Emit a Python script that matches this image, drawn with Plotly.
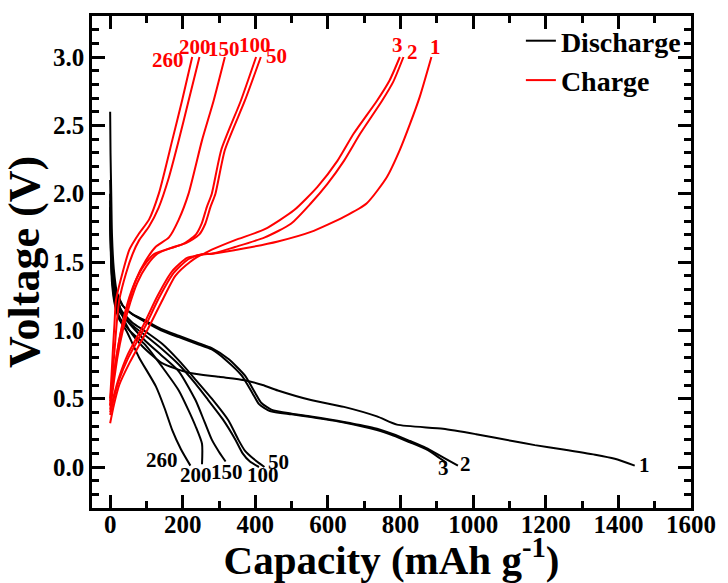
import plotly.graph_objects as go

# ---------------- data ----------------
cycles = ["1", "2", "3", "50", "100", "150", "200", "260"]

dis_x = {
    "1": [0, 1, 3, 5, 10, 20, 35, 53, 90, 143, 216, 300, 371, 420, 462, 553, 644, 735, 790, 917, 1008, 1108, 1170, 1244, 1336, 1390, 1445],
    "2": [0, 2, 5, 15, 35, 60, 98, 140, 189, 240, 280, 326, 371, 400, 416, 444, 500, 553, 644, 735, 780, 826, 870, 917, 958],
    "3": [0, 2, 5, 15, 35, 60, 98, 140, 189, 240, 280, 320, 362, 392, 410, 440, 500, 553, 644, 735, 780, 826, 870, 900, 926],
    "50": [0, 2, 5, 12, 30, 60, 98, 144, 189, 235, 280, 326, 353, 371, 395, 425],
    "100": [0, 2, 5, 12, 30, 60, 98, 144, 189, 235, 270, 310, 345, 365, 385, 410],
    "150": [0, 2, 5, 12, 25, 53, 98, 140, 189, 235, 260, 280, 300, 318],
    "200": [0, 2, 5, 12, 25, 53, 98, 144, 189, 215, 235, 253, 253],
    "260": [0, 2, 5, 12, 25, 44, 80, 126, 150, 171, 195, 221],
}
dis_y = {
    "1": [2.6, 2.3, 2.0, 1.7, 1.45, 1.25, 1.1, 1.0, 0.88, 0.76, 0.69, 0.66, 0.635, 0.6, 0.56, 0.49, 0.44, 0.37, 0.31, 0.28, 0.24, 0.19, 0.16, 0.13, 0.09, 0.06, 0.01],
    "2": [2.1, 1.8, 1.5, 1.3, 1.18, 1.12, 1.07, 1.01, 0.96, 0.91, 0.87, 0.79, 0.67, 0.54, 0.47, 0.42, 0.39, 0.37, 0.33, 0.28, 0.24, 0.19, 0.14, 0.07, 0.01],
    "3": [2.0, 1.75, 1.5, 1.3, 1.18, 1.12, 1.06, 1.0, 0.95, 0.9, 0.86, 0.78, 0.67, 0.54, 0.46, 0.41, 0.385, 0.365, 0.325, 0.27, 0.23, 0.18, 0.13, 0.08, 0.03],
    "50": [1.95, 1.7, 1.5, 1.3, 1.15, 1.06, 0.99, 0.9, 0.78, 0.64, 0.5, 0.34, 0.2, 0.12, 0.06, 0.0],
    "100": [1.9, 1.65, 1.45, 1.28, 1.13, 1.04, 0.96, 0.86, 0.75, 0.61, 0.49, 0.35, 0.2, 0.1, 0.04, 0.0],
    "150": [1.9, 1.6, 1.4, 1.25, 1.14, 1.05, 0.92, 0.82, 0.7, 0.49, 0.33, 0.2, 0.11, 0.04],
    "200": [1.85, 1.6, 1.4, 1.22, 1.1, 1.0, 0.89, 0.73, 0.56, 0.42, 0.3, 0.17, 0.02],
    "260": [1.8, 1.55, 1.35, 1.2, 1.08, 1.0, 0.8, 0.59, 0.43, 0.27, 0.13, 0.01],
}

chg_x = {
    "1": [0, 10, 25, 53, 98, 140, 180, 220, 253, 280, 371, 462, 553, 644, 707, 762, 798, 826, 853, 885],
    "2": [0, 10, 25, 50, 95, 135, 175, 215, 250, 280, 344, 426, 498, 553, 598, 644, 689, 749, 780, 808],
    "3": [0, 10, 25, 48, 92, 130, 170, 212, 253, 280, 344, 426, 507, 571, 626, 671, 735, 770, 798],
    "50": [0, 8, 20, 35, 55, 75, 100, 130, 175, 210, 245, 262, 276, 290, 316, 371, 415],
    "100": [0, 6, 17, 30, 48, 68, 92, 122, 165, 200, 236, 252, 266, 280, 306, 360, 402],
    "150": [0, 8, 20, 35, 53, 71, 98, 125, 162, 189, 216, 253, 285, 316],
    "200": [0, 6, 12, 18, 25, 44, 62, 80, 107, 134, 162, 189, 216, 246],
    "260": [0, 4, 8, 12, 16, 34, 53, 80, 107, 134, 171, 198, 226],
}
chg_y = {
    "1": [0.32, 0.45, 0.6, 0.76, 0.98, 1.2, 1.4, 1.5, 1.555, 1.56, 1.6, 1.65, 1.72, 1.83, 1.93, 2.12, 2.32, 2.51, 2.71, 3.0],
    "2": [0.38, 0.5, 0.64, 0.8, 1.02, 1.24, 1.42, 1.52, 1.555, 1.56, 1.61, 1.68, 1.78, 1.93, 2.07, 2.24, 2.44, 2.68, 2.82, 3.0],
    "3": [0.4, 0.52, 0.66, 0.82, 1.04, 1.25, 1.43, 1.53, 1.555, 1.59, 1.66, 1.74, 1.88, 2.05, 2.24, 2.44, 2.68, 2.83, 3.0],
    "50": [0.42, 0.58, 0.8, 1.0, 1.2, 1.35, 1.47, 1.56, 1.61, 1.64, 1.7, 1.78, 1.9, 2.0, 2.32, 2.68, 3.0],
    "100": [0.45, 0.6, 0.8, 1.0, 1.2, 1.35, 1.47, 1.56, 1.6, 1.63, 1.7, 1.78, 1.9, 2.0, 2.32, 2.68, 3.0],
    "150": [0.45, 0.62, 0.85, 1.05, 1.22, 1.37, 1.51, 1.61, 1.68, 1.81, 2.0, 2.39, 2.68, 3.0],
    "200": [0.48, 0.65, 0.85, 1.05, 1.22, 1.42, 1.56, 1.66, 1.76, 1.9, 2.12, 2.39, 2.68, 3.0],
    "260": [0.5, 0.68, 0.88, 1.05, 1.22, 1.42, 1.59, 1.71, 1.81, 2.0, 2.39, 2.68, 3.0],
}

# cycle labels: (text, x, y)
chg_labels = [("260", 158, 2.98), ("200", 235, 3.07), ("150", 314, 3.06), ("100", 398, 3.09), ("50", 459, 3.01),
              ("3", 792, 3.09), ("2", 834, 3.04), ("1", 896, 3.07)]
dis_labels = [("260", 143, 0.05), ("200", 236, -0.06), ("150", 323, -0.04), ("100", 421, -0.06), ("50", 464, 0.04),
              ("3", 917, -0.01), ("2", 980, 0.025), ("1", 1473, 0.012)]

x_range = [-50, 1600]
y_range = [-0.3, 3.3]

FONT = "Liberation Serif, Times New Roman, serif"
BLACK = "#000000"
RED = "#ff0000"

fig = go.Figure()
for i, c in enumerate(cycles):
    fig.add_trace(go.Scatter(x=dis_x[c], y=dis_y[c], mode="lines",
                             line=dict(color=BLACK, width=2, shape="spline", smoothing=0.6),
                             name="Discharge", legendgroup="d", showlegend=(i == 0)))
for i, c in enumerate(cycles):
    fig.add_trace(go.Scatter(x=chg_x[c], y=chg_y[c], mode="lines",
                             line=dict(color=RED, width=2, shape="spline", smoothing=0.6),
                             name="Charge", legendgroup="c", showlegend=(i == 0)))

for t, x, y in chg_labels:
    fig.add_annotation(x=x, y=y, text=t, showarrow=False,
                       font=dict(family=FONT, size=21, color=RED, weight="bold"))
for t, x, y in dis_labels:
    fig.add_annotation(x=x, y=y, text=t, showarrow=False,
                       font=dict(family=FONT, size=21, color=BLACK, weight="bold"))

axis_common = dict(showline=True, linecolor=BLACK, linewidth=2.5, mirror="allticks",
                   ticks="inside", tickwidth=2.5, ticklen=13, tickcolor=BLACK,
                   showgrid=False, zeroline=False,
                   tickfont=dict(family=FONT, size=25, color=BLACK, weight="bold"))

fig.update_xaxes(range=x_range, tick0=0, dtick=200, ticklabelstandoff=-8,
                 minor=dict(ticks="inside", dtick=100, ticklen=7, tickwidth=2.5, tickcolor=BLACK, showgrid=False),
                 title=dict(text="Capacity (mAh g<sup>-1</sup>)", standoff=4,
                            font=dict(family=FONT, size=41, color=BLACK, weight="bold")),
                 **axis_common)
fig.update_yaxes(range=y_range, tick0=0, dtick=0.5, tickformat=".1f",
                 minor=dict(ticks="inside", dtick=0.1, ticklen=7, tickwidth=2.5, tickcolor=BLACK, showgrid=False),
                 title=dict(text="Voltage (V)", standoff=4,
                            font=dict(family=FONT, size=44, color=BLACK, weight="bold")),
                 **axis_common)

fig.update_layout(
    width=728, height=583,
    margin=dict(l=92, r=31, t=16, b=75),
    plot_bgcolor="white", paper_bgcolor="white",
    legend=dict(x=0.716, y=1.0, xanchor="left", yanchor="top",
                bgcolor="rgba(0,0,0,0)", borderwidth=0,
                font=dict(family=FONT, size=28, color=BLACK, weight="bold"),
                tracegroupgap=0),
)

fig.write_html("out.html")
